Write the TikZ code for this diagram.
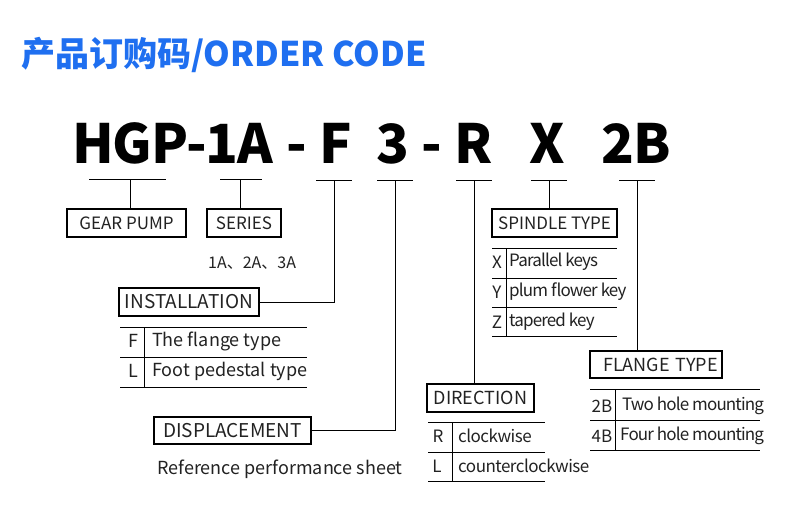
\documentclass[tikz,border=0pt]{standalone}
\usepackage{fontspec}
\setmainfont{Noto Sans CJK SC}
\newfontfamily\tightA{Noto Sans CJK SC}[LetterSpace=-5]
\newfontfamily\tightB{Noto Sans CJK SC}[LetterSpace=-3]
\newfontfamily\codefont{Noto Sans CJK SC}[LetterSpace=-2]
\definecolor{titleblue}{HTML}{1F6FF0}
\definecolor{txt}{HTML}{222222}
\begin{document}
\begin{tikzpicture}[x=1pt,y=-1pt,
  code/.style={anchor=base,font=\codefont\fontsize{54}{54}\selectfont\bfseries,text=black,inner sep=0},
  box/.style={draw=black,line width=1.1pt,inner sep=0,text=txt},
  t17/.style={font=\fontsize{17}{17}\selectfont},
  t18/.style={font=\fontsize{18}{18}\selectfont},
  t19/.style={font=\fontsize{19}{19}\selectfont},
  ta/.style={font=\tightA\fontsize{17}{17}\selectfont},
  tb/.style={font=\tightB\fontsize{17}{17}\selectfont},
  cell/.style={anchor=west,inner sep=0,text=txt},
  ln/.style={line width=1pt,draw=black}]
\useasboundingbox (0,0) rectangle (800,523);
\fill[white] (0,0) rectangle (800,523);
% title
\node[anchor=base west,inner sep=0,text=titleblue,font=\fontsize{34}{34}\selectfont\bfseries] (title) at (21,66) {产品订购码/ORDER CODE};
% code
\node[code,anchor=base west] (c1) at (72,163) {HGP-1A};
\node[code] (c2) at (297,163) {-};
\node[code] (c3) at (336,163) {F};
\node[code] (c4) at (393,163) {3};
\node[code] (c5) at (432,163) {-};
\node[code] (c6) at (474,163) {R};
\node[code] (c7) at (547,163) {X};
\node[code] (c8) at (636,163) {2B};
% bracket coordinates
\coordinate (g1) at (89,179); \coordinate (g2) at (166,179); \coordinate (gm) at (130,179);
\coordinate (s1) at (220,179); \coordinate (s2) at (262,179); \coordinate (sm) at (240,179);
\coordinate (f1) at (316,180); \coordinate (f2) at (352,180); \coordinate (fm) at (334,180);
\coordinate (d1) at (377,180); \coordinate (d2) at (413,180); \coordinate (dm) at (395,180);
\coordinate (r1) at (456,180); \coordinate (r2) at (492,180); \coordinate (rm) at (474,180);
\coordinate (x1) at (531,180); \coordinate (x2) at (567,180); \coordinate (xm) at (549,180);
\coordinate (b1) at (619,180); \coordinate (b2) at (655,180); \coordinate (bm) at (637,180);
% boxes
\node[box,t17,minimum width=119,minimum height=28] (gear) at (126.5,223) {GEAR PUMP};
\node[box,t17,minimum width=74,minimum height=28] (series) at (244,223) {SERIES};
\node[box,t19,minimum width=140,minimum height=28] (inst) at (189,302) {INSTALLATION};
\node[box,t19,minimum width=157,minimum height=27] (disp) at (232.5,430.5) {DISPLACEMENT};
\node[box,t17,minimum width=125,minimum height=28] (spin) at (554.5,223) {SPINDLE TYPE};
\node[box,t18,minimum width=107,minimum height=28] (dir) at (480.5,398) {DIRECTION};
\node[box,t18,minimum width=132,minimum height=27,text width=132,align=center,xshift=0] (flan) at (656,364.5) {\hspace*{9pt}FLANGE TYPE};
% connectors
\draw[ln] (g1) -- (g2); \draw[ln] (gm) -- (gm |- gear.north);
\draw[ln] (s1) -- (s2); \draw[ln] (sm) -- (sm |- series.north);
\draw[ln] (f1) -- (f2); \draw[ln] (fm) |- (inst.east);
\draw[ln] (d1) -- (d2); \draw[ln] (dm) |- (disp.east);
\draw[ln] (r1) -- (r2); \draw[ln] (rm) -- (rm |- dir.north);
\draw[ln] (x1) -- (x2); \draw[ln] (xm) -- (xm |- spin.north);
\draw[ln] (b1) -- (b2); \draw[ln] (bm) -- (bm |- flan.north);
% series note
\node[cell,font=\fontsize{16}{16}\selectfont] (sernote) at (208,263) {1A、2A、3A};
% installation table
\draw[ln] (120,327) -- (307,327); \draw[ln] (120,357) -- (307,357); \draw[ln] (120,387) -- (307,387);
\draw[ln] (144,327) -- (144,387);
\node[cell,t18,anchor=center] (iF) at (133,341) {F};
\node[cell,t18,anchor=center] (iL) at (133,371) {L};
\node[cell,t18] (iFt) at (152,341) {The flange type};
\node[cell,t18] (iLt) at (152,371) {Foot pedestal type};
% displacement note
\node[cell,t18] (dnote) at (157,469) {Reference performance sheet};
% spindle table
\draw[ln] (492,248) -- (617,248); \draw[ln] (492,278) -- (617,278); \draw[ln] (492,307) -- (617,307); \draw[ln] (492,336) -- (617,336);
\draw[ln] (506,248) -- (506,336);
\node[cell,t17,anchor=center] (sX) at (497,262) {X};
\node[cell,t17,anchor=center] (sY) at (497,292) {Y};
\node[cell,t17,anchor=center] (sZ) at (497,322) {Z};
\node[cell,ta] (sXt) at (509,262) {Parallel keys};
\node[cell,ta] (sYt) at (509,292) {plum flower key};
\node[cell,ta] (sZt) at (509,322) {tapered key};
% direction table
\draw[ln] (428,422) -- (545,422); \draw[ln] (428,452) -- (545,452); \draw[ln] (428,481) -- (545,481);
\draw[ln] (452,422) -- (452,481);
\node[cell,t17,anchor=center] (dR) at (438,436) {R};
\node[cell,t17,anchor=center] (dL) at (437,466) {L};
\node[cell,tb] (dRt) at (458,436) {clockwise};
\node[cell,tb] (dLt) at (458,466) {counterclockwise};
% flange table
\draw[ln] (590,389) -- (760,389); \draw[ln] (590,420) -- (760,420); \draw[ln] (590,450) -- (760,450);
\draw[ln] (615,389) -- (615,450);
\node[cell,t17,anchor=center] (f2B) at (602,406) {2B};
\node[cell,t17,anchor=center] (f4B) at (602,436) {4B};
\node[cell,ta] (f2Bt) at (622,406) {Two hole mounting};
\node[cell,ta] (f4Bt) at (620,436) {Four hole mounting};
\end{tikzpicture}
\end{document}
